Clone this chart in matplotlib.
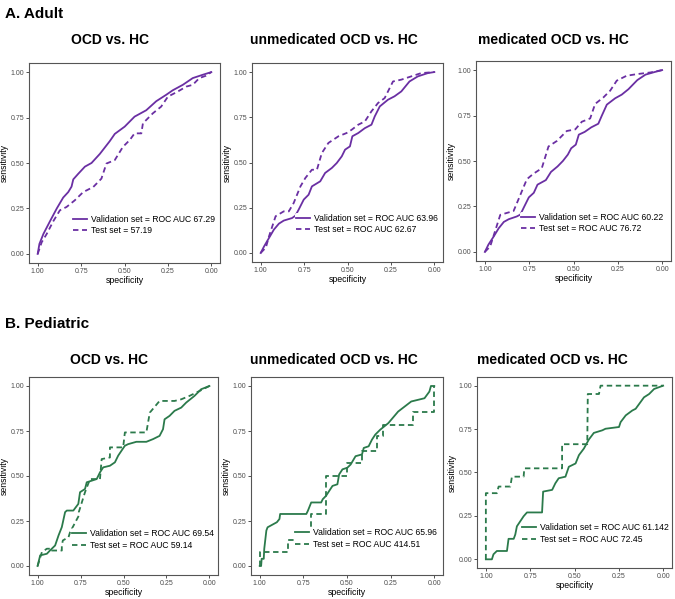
import matplotlib
matplotlib.use("Agg")
import matplotlib.pyplot as plt

PURPLE = "#6a2fa3"
GREEN = "#2b7a4b"

# ---- Adult: OCD vs HC ----
a1_val_spec = [1.0, .99, .967, .929, .89, .853, .824, .805, .795, .767, .728, .69, .642, .585, .556, .499,
               .442, .375, .317, .26, .222, .164, .107, .05, 0.0]
a1_val_sens = [0.0, .055, .11, .18, .25, .31, .34, .37, .41, .44, .48, .50, .55, .62, .66, .70,
               .755, .79, .84, .875, .90, .93, .967, .985, 1.0]
a1_test_spec = [1.0, .977, .948, .91, .872, .834, .786, .738, .68, .633, .604, .556, .509, .47, .442, .403,
                .394, .337, .289, .25, .193, .145, .107, .069, .031, 0.0]
a1_test_sens = [0.0, .064, .11, .18, .24, .258, .295, .34, .368, .414, .497, .516, .589, .626, .663, .663,
                .718, .773, .81, .865, .893, .92, .93, .967, .98, 1.0]

# ---- Adult: unmedicated OCD vs HC ----
a2_val_spec = [1.0, .98, .952, .924, .895, .867, .819, .8, .781, .752, .724, .705, .657, .629, .59, .562,
               .533, .514, .486, .472, .438, .4, .362, .343, .314, .267, .229, .19, .143, .095, .038, 0.0]
a2_val_sens = [0.0, .037, .083, .129, .162, .179, .193, .206, .24, .295, .322, .368, .396, .442, .47, .497,
               .534, .571, .589, .645, .663, .69, .709, .755, .81, .847, .866, .893, .948, .976, .994, 1.0]
a2_test_spec = [1.0, .97, .952, .914, .867, .838, .81, .771, .743, .705, .676, .648, .61, .552, .505, .476,
                .438, .4, .362, .324, .286, .238, .19, .133, .076, 0.0]
a2_test_sens = [0.0, .03, .092, .203, .23, .23, .276, .368, .414, .46, .46, .552, .608, .645, .663, .681,
                .709, .727, .783, .829, .856, .948, .958, .976, .994, 1.0]

# ---- Adult: medicated OCD vs HC ----
a3_val_spec = [1.0, .98, .95, .922, .893, .865, .82, .8, .78, .752, .724, .703, .656, .627, .59, .56,
               .532, .513, .487, .47, .437, .4, .36, .34, .312, .265, .228, .19, .14, .094, .04, 0.0]
a3_val_sens = [0.0, .04, .085, .13, .165, .18, .195, .205, .245, .3, .325, .37, .395, .44, .47, .5,
               .535, .57, .59, .645, .66, .685, .705, .75, .81, .845, .865, .895, .945, .975, .99, 1.0]
a3_test_spec = [1.0, .97, .913, .838, .81, .763, .726, .679, .641, .594, .538, .49, .453, .406, .378, .331,
                .293, .256, .2, .141, .066, 0.0]
a3_test_sens = [0.0, .03, .204, .225, .29, .40, .43, .46, .58, .61, .665, .674, .716, .734, .814, .85,
                .887, .942, .969, .978, .987, 1.0]

# ---- Pediatric: OCD vs HC ----
b1_val_spec = [1.0, .985, .946, .927, .898, .878, .859, .84, .83, .792, .763, .753, .724, .714, .685, .656,
               .637, .618, .579, .55, .531, .512, .492, .473, .425, .367, .328, .29, .27, .261, .232, .203,
               .164, .135, .087, .048, 0.0]
b1_val_sens = [0.0, .059, .068, .087, .114, .17, .216, .299, .308, .308, .345, .41, .428, .465, .474, .483,
               .52, .548, .557, .576, .613, .64, .668, .677, .69, .69, .705, .723, .76, .815, .834, .862,
               .88, .908, .945, .982, 1.0]
b1_test_spec = [1.0, .975, .946, .917, .917, .859, .859, .853, .82, .811, .76, .76, .724, .695, .637, .627,
                .579, .579, .502, .492, .367, .347, .29, .203, .164, .116, .058, 0.0]
b1_test_sens = [0.0, .077, .096, .096, .086, .086, .114, .142, .16, .188, .28, .30, .41, .483, .483, .594,
                .603, .659, .659, .742, .742, .852, .917, .917, .926, .945, .972, 1.0]

# ---- Pediatric: unmedicated OCD vs HC ----
b2_val_spec = [1.0, .992, .989, .977, .974, .962, .955, .921, .902, .887, .883, .733, .724, .705, .648, .639,
               .62, .602, .583, .555, .545, .526, .498, .479, .451, .414, .404, .376, .357, .338, .31, .263,
               .207, .132, .056, .028, .019, 0.0]
b2_val_sens = [0.0, 0.0, .04, .04, .096, .197, .215, .233, .243, .261, .289, .289, .307, .353, .353, .371,
               .39, .417, .445, .454, .509, .537, .546, .564, .61, .62, .656, .665, .702, .73, .757, .794,
               .858, .914, .932, .969, 1.0, 1.0]
b2_test_spec = [1.0, 1.0, .836, .836, .705, .705, .705, .62, .62, .498, .498, .414, .414, .329, .329, .291,
                .291, .122, .122, 0.0, 0.0]
b2_test_sens = [0.0, .077, .077, .142, .142, .252, .289, .289, .50, .50, .574, .574, .638, .638, .72, .72,
                .785, .785, .858, .858, 1.0]

# ---- Pediatric: medicated OCD vs HC ----
b3_val_spec = [1.0, .966, .957, .938, .881, .872, .843, .834, .825, .787, .768, .683, .677, .626, .608, .589,
               .551, .532, .494, .475, .447, .419, .391, .343, .325, .249, .24, .211, .174, .155, .108, .079,
               .051, 0.0]
b3_val_sens = [0.0, 0.0, .029, .048, .048, .118, .118, .143, .19, .248, .27, .27, .39, .40, .438, .467,
               .476, .533, .552, .60, .638, .69, .728, .743, .752, .762, .79, .829, .857, .867, .933, .952,
               .981, 1.0]
b3_test_spec = [1.0, 1.0, .938, .928, .862, .853, .787, .783, .57, .57, .428, .425, .362, .353, 0.0]
b3_test_sens = [0.0, .381, .381, .419, .419, .476, .476, .524, .524, .663, .663, .952, .952, 1.0, 1.0]

panels = [
    # title, box in px (left, top, right, bottom), colour, val, test, legend labels, title x/y, legend y
    ("OCD vs. HC", (29, 63, 220, 263), PURPLE, (a1_val_spec, a1_val_sens), (a1_test_spec, a1_test_sens),
     ("Validation set = ROC AUC 67.29", "Test set = 57.19"), 110, 40, 0.19),
    ("unmedicated OCD vs. HC", (252, 63, 443, 262), PURPLE, (a2_val_spec, a2_val_sens), (a2_test_spec, a2_test_sens),
     ("Validation set = ROC AUC 63.96", "Test set = ROC AUC 62.67"), 334, 40, 0.19),
    ("medicated OCD vs. HC", (476, 61, 671, 261), PURPLE, (a3_val_spec, a3_val_sens), (a3_test_spec, a3_test_sens),
     ("Validation set = ROC AUC 60.22", "Test set = ROC AUC 76.72"), 553, 40, 0.19),
    ("OCD vs. HC", (29, 377, 218, 575), GREEN, (b1_val_spec, b1_val_sens), (b1_test_spec, b1_test_sens),
     ("Validation set = ROC AUC 69.54", "Test set = ROC AUC 59.14"), 109, 360, 0.18),
    ("unmedicated OCD vs. HC", (251, 377, 443, 575), GREEN, (b2_val_spec, b2_val_sens), (b2_test_spec, b2_test_sens),
     ("Validation set = ROC AUC 65.96", "Test set = ROC AUC 414.51"), 334, 360, 0.184),
    ("medicated OCD vs. HC", (477, 377, 672, 568), GREEN, (b3_val_spec, b3_val_sens), (b3_test_spec, b3_test_sens),
     ("Validation set = ROC AUC 61.142", "Test set = ROC AUC 72.45"), 552, 360, 0.18),
]

W, H = 675, 599
fig = plt.figure(figsize=(W / 100, H / 100), dpi=100)
fig.patch.set_facecolor("white")
FONT = ["Liberation Sans", "DejaVu Sans"]

fig.text(5 / W, 1 - 14 / H, "A. Adult", fontsize=11, fontweight="bold", family=FONT, va="center", ha="left")
fig.text(5 / W, 1 - 324 / H, "B. Pediatric", fontsize=11, fontweight="bold", family=FONT, va="center", ha="left")

for title, (l, t, r, b), col, (vs, vn), (ts, tn), labels, tx, ty, legy in panels:
    ax = fig.add_axes([l / W, 1 - b / H, (r - l) / W, (b - t) / H])
    ax.plot(vs, vn, color=col, lw=1.3)
    ax.plot(ts, tn, color=col, lw=1.3, ls=(0, (3, 2)))
    ax.set_xlim(1.05, -0.05)
    ax.set_ylim(-0.05, 1.05)
    ticks = [0, 0.25, 0.5, 0.75, 1.0]
    ax.set_xticks(ticks)
    ax.set_yticks(ticks)
    ax.set_xticklabels([f"{v:.2f}" for v in ticks])
    ax.set_yticklabels([f"{v:.2f}" for v in ticks])
    ax.tick_params(length=2, width=0.6, pad=1.5, labelsize=5, labelcolor="#4d4d4d", color="#333333")
    for lab in ax.get_xticklabels() + ax.get_yticklabels():
        lab.set_family(FONT)
    for s in ax.spines.values():
        s.set_color("#555555")
        s.set_linewidth(0.8)
    ax.set_xlabel("specificity", fontsize=6.3, family=FONT, labelpad=1)
    ax.set_ylabel("sensitivity", fontsize=6.3, family=FONT, labelpad=1)
    leg = ax.legend(labels, loc="center left", bbox_to_anchor=(0.225, legy), frameon=True,
                    handlelength=1.6, handletextpad=0.5, labelspacing=0.3,
                    borderpad=0.1, borderaxespad=0, prop={"family": FONT, "size": 6.2})
    leg.get_frame().set_facecolor("white")
    leg.get_frame().set_edgecolor("none")
    leg.get_frame().set_alpha(1)
    fig.text(tx / W, 1 - ty / H, title, fontsize=10, fontweight="bold", family=FONT,
             ha="center", va="center")

fig.savefig("out.png", dpi=100)
